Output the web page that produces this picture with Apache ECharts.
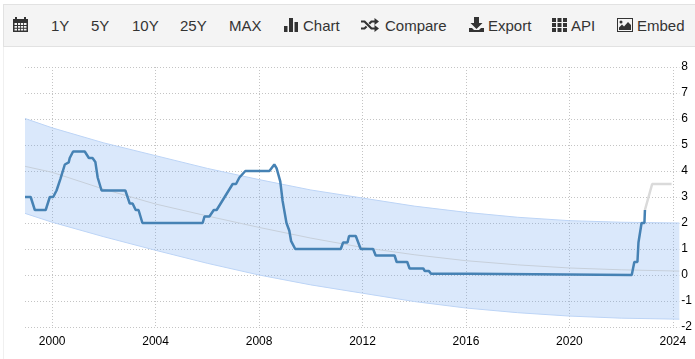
<!DOCTYPE html>
<html>
<head>
<meta charset="utf-8">
<style>
  html, body { margin: 0; padding: 0; background: #fff; }
  #page { position: relative; width: 695px; height: 359px; overflow: hidden; }
  #myEchart { position: absolute; left: 0; top: 0; width: 695px; height: 359px; }
  #edge { position: absolute; left: 3px; top: 46px; width: 1px; height: 313px; background: #f0f0f0; }
  #bar { position: absolute; left: 3px; top: 4px; width: 692px; height: 43px; box-sizing: border-box;
         background: #f4f4f4; border: 1px solid #e2e2e2; border-right: 0; }
  .btn { position: absolute; top: 17px; font: 15px/17px "Liberation Sans", Arial, sans-serif; color: #333; white-space: nowrap; }
  svg.ico { position: absolute; fill: #333; }
</style>
</head>
<body>
<div id="page">
  <div id="myEchart"></div>
  <div id="edge"></div>
  <div id="bar"></div>
  <!-- calendar -->
  <svg class="ico" style="left:13px;top:17px" width="15" height="15" viewBox="0 0 15 16" preserveAspectRatio="none">
    <path d="M0 2h15v14H0z M2 0h2v3H2z M11 0h2v3h-2z"/>
    <path fill="#f4f4f4" d="M1.5 6.5h2.5v2H1.500z M5 6.500h2.200v2H5z M8 6.500h2.200v2H8z M11 6.500h2.500v2H11z M1.500 9.500h2.500v2H1.500z M5 9.500h2.200v2H5z M8 9.500h2.200v2H8z M11 9.500h2.500v2H11z M1.500 12.500h2.500v2H1.500z M5 12.500h2.200v2H5z M8 12.500h2.200v2H8z M11 12.500h2.500v2H11z"/>
  </svg>
  <span class="btn" style="left:51px">1Y</span>
  <span class="btn" style="left:91px">5Y</span>
  <span class="btn" style="left:132px">10Y</span>
  <span class="btn" style="left:180px">25Y</span>
  <span class="btn" style="left:229px">MAX</span>
  <!-- bars -->
  <svg class="ico" style="left:284px;top:18px" width="14" height="14" viewBox="0 0 14 14">
    <path d="M0 8h3.500v6H0z M5 0h4v14H5z M10.500 4H14v10h-3.500z"/>
  </svg>
  <span class="btn" style="left:303px">Chart</span>
  <!-- shuffle -->
  <svg class="ico" style="left:361px;top:18px" width="18" height="14" viewBox="0 0 18 14">
    <path d="M0 2.500h4l7 7h2.500V7l4.500 3.500-4.500 3.500v-2.500H10l-7-7H0z"/>
    <path d="M0 9.500h3l1.800-1.800 1.500 1.500-2.400 2.300H0z M10 2.500h3.500V0L18 3.500 13.500 7V4.500H11L9 6.400 7.500 5z"/>
  </svg>
  <span class="btn" style="left:385px">Compare</span>
  <!-- download -->
  <svg class="ico" style="left:469px;top:17px" width="15" height="15" viewBox="0 0 15 15">
    <path d="M5 0h5v6h3.500l-6 6-6-6H5z M0 11h3l2 2h5l2-2h3v4H0z"/>
  </svg>
  <span class="btn" style="left:488px">Export</span>
  <!-- grid -->
  <svg class="ico" style="left:552px;top:18px" width="15" height="14" viewBox="0 0 15 14">
    <path d="M0 0h4v4H0z M5.500 0h4v4h-4z M11 0h4v4h-4z M0 5h4v4H0z M5.500 5h4v4h-4z M11 5h4v4h-4z M0 10h4v4H0z M5.500 10h4v4h-4z M11 10h4v4h-4z"/>
  </svg>
  <span class="btn" style="left:571px">API</span>
  <!-- picture -->
  <svg class="ico" style="left:617px;top:18px" width="16" height="14" viewBox="0 0 16 14">
    <path d="M0 0h16v14H0z"/>
    <path fill="#f4f4f4" d="M1 1h14v12H1z"/>
    <path d="M2 12V9.500l3-3 2 2 4-4.500 3 3v5z"/>
    <circle cx="4" cy="4" r="1.500"/>
  </svg>
  <span class="btn" style="left:637px">Embed</span>
</div>

<script src="https://cdn.jsdelivr.net/npm/echarts@6/dist/echarts.min.js"></script>
<script>
// ticks
var yearTicks = [2000, 2004, 2008, 2012, 2016, 2020, 2024];

// policy rate
var rateYears = [1998.95, 1999.17, 1999.33, 1999.75, 1999.91, 2000.04, 2000.17, 2000.32, 2000.49, 2000.64, 2000.68, 2000.81,
  2001.26, 2001.42, 2001.56, 2001.67, 2001.76, 2001.91, 2002.83, 2003.0, 2003.11, 2003.23, 2003.34, 2003.49,
  2005.82, 2005.89, 2006.08, 2006.25, 2006.36, 2006.98, 2007.11, 2007.24, 2007.47, 2008.4, 2008.59, 2008.68,
  2008.82, 2008.91, 2009.06, 2009.17, 2009.24, 2009.4, 2011.16, 2011.25, 2011.42, 2011.48, 2011.74, 2011.93,
  2012.41, 2012.51, 2013.24, 2013.32, 2013.73, 2013.82, 2014.35, 2014.41, 2014.57, 2014.65, 2016.15, 2016.2,
  2022.41, 2022.51, 2022.63, 2022.67, 2022.79, 2022.9, 2022.92];
var rateValues = [3, 3, 2.5, 2.5, 3, 3, 3.25, 3.7, 4.25, 4.33, 4.5, 4.75,
  4.75, 4.5, 4.5, 4.35, 3.75, 3.25, 3.25, 2.75, 2.75, 2.5, 2.5, 2,
  2, 2.25, 2.25, 2.5, 2.5, 3.5, 3.5, 3.75, 4, 4, 4.25, 4.1,
  3.6, 2.85, 2, 1.7, 1.3, 1, 1, 1.25, 1.25, 1.5, 1.5, 1,
  1, 0.75, 0.75, 0.5, 0.5, 0.25, 0.25, 0.15, 0.15, 0.05, 0.05, 0,
  0, 0.5, 0.5, 1.25, 2, 2, 2.5];

// forecast part
var forecastYears = [2022.92, 2023.2, 2023.95];
var forecastValues = [2.5, 3.5, 3.5];

// trend with its band
var bandYears = [1998.95, 2000, 2002, 2004, 2006, 2008, 2010, 2012, 2014, 2016, 2018, 2020, 2022, 2024.25];
var bandUpper = [6.02, 5.66, 5.08, 4.59, 4.1, 3.67, 3.27, 2.96, 2.65, 2.41, 2.22, 2.09, 2.03, 2.0];
var bandLower = [2.37, 2.03, 1.47, 0.95, 0.45, 0, -0.38, -0.7, -1.02, -1.27, -1.45, -1.58, -1.66, -1.7];
var bandMiddle = [4.18, 3.95, 3.3, 2.73, 2.27, 1.83, 1.42, 1.06, 0.78, 0.55, 0.39, 0.27, 0.2, 0.15];

function zip(xs, ys) {
  return xs.map(function (x, i) { return [x, ys[i]]; });
}

// area between upper and lower, one polygon through the axis scales
function renderBand(params, api) {
  if (params.dataIndex !== 0) return null;
  var top = bandYears.map(function (y, i) { return api.coord([y, bandUpper[i]]); });
  var bottom = bandYears.map(function (y, i) { return api.coord([y, bandLower[i]]); }).reverse();
  return {
    type: 'polygon',
    shape: { points: top.concat(bottom) },
    style: { fill: 'rgba(99,160,240,0.24)', stroke: 'none' }
  };
}

var myChart = echarts.init(document.getElementById('myEchart'));
var gridLine = { show: true, lineStyle: { color: '#c4c4c4', type: [1, 2], width: 1 } };
var labelFont = { color: '#000', fontSize: 12, fontFamily: '"Liberation Sans", Arial, sans-serif' };

myChart.setOption({
  animation: false,
  grid: { left: 25, right: 14, top: 67, bottom: 32 },
  xAxis: {
    type: 'value',
    min: 1998.95,
    max: 2024.25,
    axisLine: { show: false },
    axisTick: { show: false, customValues: yearTicks },
    axisLabel: Object.assign({
      customValues: yearTicks,
      margin: 9,
      formatter: function (v) { return String(v); }
    }, labelFont),
    splitLine: gridLine
  },
  yAxis: {
    type: 'value',
    position: 'right',
    min: -2,
    max: 8,
    interval: 1,
    axisLine: { show: false },
    axisTick: { show: false },
    axisLabel: Object.assign({ margin: 2, padding: [3, 0, 0, 0] }, labelFont),
    splitLine: gridLine
  },
  series: [
    {
      type: 'custom',
      renderItem: renderBand,
      data: zip(bandYears, bandUpper),
      encode: { x: 0, y: 1 },
      silent: true
    },
    {
      type: 'line', symbol: 'none',
      data: zip(bandYears, bandUpper),
      lineStyle: { color: '#bcd4f6', width: 1 }
    },
    {
      type: 'line', symbol: 'none',
      data: zip(bandYears, bandLower),
      lineStyle: { color: '#bcd4f6', width: 1 }
    },
    {
      type: 'line', symbol: 'none',
      data: zip(bandYears, bandMiddle),
      lineStyle: { color: '#c6cfda', width: 1 }
    },
    {
      type: 'line', symbol: 'none',
      data: zip(forecastYears, forecastValues),
      lineStyle: { color: '#dadada', width: 2.5 }
    },
    {
      type: 'line', symbol: 'none',
      data: zip(rateYears, rateValues),
      lineStyle: { color: '#4682b4', width: 2.5 }
    }
  ]
});
</script>
</body>
</html>
